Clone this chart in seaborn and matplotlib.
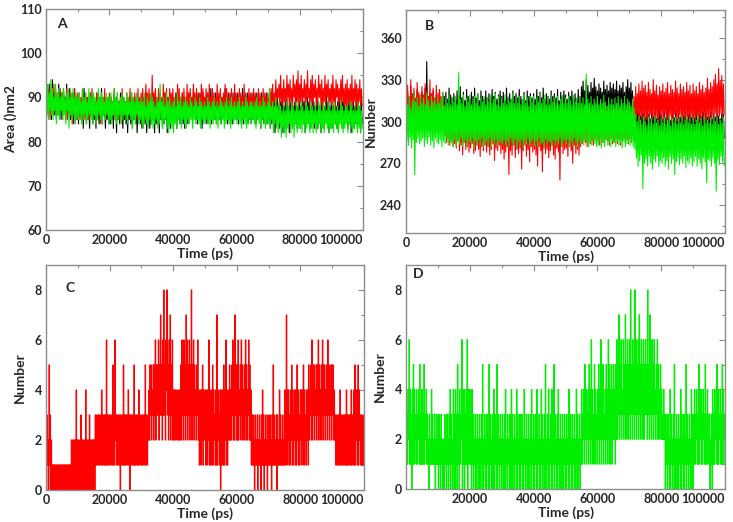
import matplotlib
matplotlib.use("Agg")
import matplotlib.pyplot as plt
from matplotlib.ticker import MultipleLocator
import numpy as np
import pandas as pd
import seaborn as sns

# ---- panel A : area (nm2), one value every 250 ps ----
area_black = [
    92,87,91,86,93,88,90,85,94,87,91,86,92,88,90,86,93,87,91,85,
    91,86,92,88,90,85,93,87,89,86,92,85,90,87,91,84,92,86,90,85,
    89,84,91,86,88,85,90,83,92,86,89,84,90,85,88,83,91,86,89,84,
    90,85,89,83,91,86,88,84,90,85,92,84,89,86,88,83,90,85,89,84,
    88,84,90,85,89,83,91,86,88,82,90,85,89,84,91,86,88,83,90,85,
    89,84,88,82,90,85,89,84,91,83,88,85,90,84,89,82,88,85,90,84,
    88,83,90,85,89,84,91,82,88,85,89,83,90,84,88,85,89,82,90,84,
    89,84,88,82,90,85,88,83,89,84,91,85,88,82,90,84,89,83,88,85,
    90,84,89,85,91,83,88,86,90,84,89,85,91,84,88,83,90,85,89,84,
    91,85,89,86,90,84,92,86,89,85,90,84,91,86,89,85,90,83,91,86,
    90,85,89,84,91,86,90,85,92,84,89,86,90,85,91,84,89,86,90,85,
    91,84,90,86,89,85,92,86,90,84,91,85,89,86,90,84,91,85,89,86,
    90,85,91,84,89,86,90,85,92,84,90,86,89,85,91,84,90,85,89,84,
    91,85,89,86,90,84,91,85,89,86,90,83,91,85,89,84,90,86,91,84,
    89,85,90,83,91,84,88,85,90,82,89,84,90,85,88,83,89,84,90,82,
    88,84,89,83,90,85,88,82,89,84,90,83,88,85,89,84,91,83,88,84,
    89,83,88,85,90,84,89,82,88,85,90,84,89,83,88,84,90,85,89,83,
    88,84,90,83,89,85,88,82,90,84,89,83,88,85,90,84,89,82,88,84,
    89,83,88,85,90,84,88,83,89,82,90,85,88,84,89,83,90,84,88,85,
    88,83,89,84,90,82,88,85,89,83,88,84,90,83,89,85,88,82,89,84]
area_red = [
    91,86,90,87,92,85,89,88,91,86,93,87,90,85,91,87,89,86,92,87,
    90,85,91,87,89,86,92,85,90,87,91,86,89,84,90,87,92,86,90,85,
    91,86,89,85,90,87,92,86,89,85,91,86,90,87,89,85,91,86,92,87,
    90,86,89,85,91,87,90,86,89,84,91,86,90,87,92,85,89,86,90,87,
    91,85,90,87,89,86,92,85,90,86,91,87,89,85,90,86,92,87,90,86,
    89,86,91,85,90,87,92,86,89,85,90,87,91,86,89,85,92,86,90,87,
    91,87,92,86,90,88,93,87,91,86,92,88,90,87,95,86,91,88,92,87,
    90,87,92,86,91,88,90,87,93,86,91,88,92,87,90,86,92,88,91,87,
    92,87,90,88,91,86,93,87,92,88,90,87,91,86,92,88,90,87,93,86,
    91,88,92,87,90,86,93,88,91,87,92,86,90,88,91,87,93,86,92,88,
    90,87,92,88,91,86,93,87,90,88,92,87,91,86,90,88,93,87,91,86,
    92,88,90,87,91,86,93,88,92,87,90,86,91,88,92,87,90,86,93,87,
    91,87,90,86,92,88,91,87,90,86,93,87,91,88,90,86,92,87,91,88,
    90,86,92,87,91,88,90,86,92,87,91,86,90,88,92,87,91,86,90,87,
    91,87,90,86,92,88,93,87,91,89,94,88,92,90,93,88,95,89,92,88,
    94,89,92,88,95,90,93,88,94,89,92,87,95,90,93,88,94,89,96,88,
    93,89,95,88,92,90,94,88,93,89,96,90,92,88,94,89,95,88,93,90,
    94,88,92,89,95,90,93,88,94,87,92,89,95,88,93,90,94,88,92,89,
    93,88,95,89,92,87,94,90,93,88,92,89,94,88,95,89,92,88,93,87,
    94,88,92,89,93,87,95,88,92,89,94,88,93,87,92,89,94,88,92,88]
area_green = [
    92,86,93,85,91,87,94,86,92,85,90,87,93,84,91,86,92,85,90,87,
    91,85,92,86,90,84,91,87,92,83,90,86,91,85,92,86,90,84,91,85,
    90,85,91,86,89,84,92,85,90,86,91,84,89,85,92,86,90,85,91,84,
    91,86,90,84,89,85,92,86,90,85,91,84,90,86,89,85,91,86,90,84,
    90,85,91,84,89,86,92,85,90,84,91,85,89,86,90,84,91,85,90,86,
    89,85,91,84,90,86,89,85,91,83,90,85,89,84,91,86,90,84,89,85,
    90,84,89,83,91,85,88,84,90,83,89,85,91,84,90,83,89,84,88,85,
    90,83,89,84,93,85,89,83,90,84,88,85,91,83,89,82,90,84,88,83,
    89,82,90,84,88,83,91,85,89,84,90,83,88,85,89,84,90,83,89,85,
    88,84,90,85,89,83,88,85,90,84,89,85,88,84,90,83,89,85,88,84,
    89,84,88,85,90,84,89,83,88,85,89,84,90,85,88,84,89,83,88,85,
    90,84,89,85,88,83,89,84,90,85,88,84,89,83,90,85,88,84,89,85,
    88,84,89,85,90,84,88,83,89,85,88,84,90,83,89,84,88,85,89,84,
    89,85,88,84,89,83,90,85,88,84,89,83,88,85,90,84,89,83,88,84,
    89,84,92,83,88,85,89,82,88,84,90,83,88,82,89,84,88,81,87,83,
    88,82,87,81,89,83,88,84,87,82,89,83,88,81,87,84,89,82,88,83,
    87,83,89,82,88,84,87,82,89,83,88,84,87,82,89,83,88,82,87,84,
    88,82,87,83,89,84,88,82,87,83,89,82,88,84,87,83,89,82,88,83,
    87,83,88,82,89,84,87,83,88,82,87,84,89,83,88,82,87,83,88,84,
    88,82,87,84,89,83,88,82,87,83,88,84,87,82,89,83,88,82,87,83]

# ---- panel B : number, one value every 250 ps ----
num_black = [
    318,298,322,296,315,300,325,294,317,299,320,297,314,301,323,295,319,298,316,300,
    321,297,317,300,324,296,343,299,318,295,320,301,316,297,322,299,315,296,319,300,
    317,296,323,299,315,297,320,300,318,294,321,298,316,301,324,297,319,295,317,299,
    320,298,316,295,322,300,318,297,325,299,317,296,321,300,315,298,323,295,318,301,
    316,297,321,299,318,295,324,300,317,298,320,296,315,299,322,297,318,300,316,296,
    322,299,317,296,320,298,316,300,323,295,318,299,321,297,316,300,319,296,322,298,
    318,296,321,300,315,297,324,299,317,295,320,298,316,301,322,297,318,299,320,296,
    317,299,323,296,318,300,316,297,321,299,315,296,322,300,318,297,320,298,317,299,
    320,297,316,300,323,298,318,295,321,299,317,297,324,300,316,298,320,296,318,300,
    316,298,322,299,318,296,320,300,317,297,323,299,315,298,321,296,318,300,322,297,
    319,300,316,297,321,299,318,296,322,300,317,298,320,297,316,301,323,299,318,296,
    325,305,329,308,322,306,330,304,326,309,321,306,328,305,324,308,331,306,325,304,
    322,307,327,304,324,309,321,305,329,307,323,304,326,308,322,306,328,303,324,307,
    327,305,323,308,329,306,322,304,326,309,324,305,328,307,321,304,325,308,330,306,
    324,307,328,305,322,300,310,287,305,290,312,286,307,291,304,285,309,289,306,284,
    303,288,308,285,305,290,302,284,309,287,304,289,307,283,302,288,306,285,310,287,
    305,284,302,289,307,286,303,288,309,285,304,287,301,283,306,289,303,286,308,284,
    302,287,306,284,303,289,308,286,304,283,307,288,302,285,305,289,309,286,303,285,
    306,285,303,288,308,284,302,287,305,289,304,283,307,286,302,288,306,284,303,287,
    304,288,307,285,302,289,306,284,303,287,308,285,304,289,302,286,306,283,305,288]
num_red = [
    322,303,326,300,318,305,330,302,320,306,324,301,317,304,328,300,321,303,319,305,
    325,301,319,304,327,300,322,306,318,302,330,305,320,301,324,303,317,300,326,304,
    320,303,323,299,318,305,321,296,312,290,308,285,304,288,310,283,306,287,303,282,
    305,284,307,281,302,286,309,279,304,283,300,276,306,285,303,280,308,282,301,278,
    304,281,307,284,300,277,305,279,302,283,308,280,303,275,306,282,301,279,304,283,
    306,278,301,282,304,276,309,280,303,284,300,272,305,281,307,279,302,283,304,277,
    303,280,306,273,301,278,305,282,302,262,304,279,300,276,307,283,303,274,301,280,
    305,277,302,281,308,266,303,279,300,283,306,275,302,280,304,271,307,282,301,278,
    303,280,306,276,301,268,305,282,303,279,300,264,304,281,307,277,302,280,305,274,
    302,279,306,283,301,276,304,273,307,281,302,278,305,258,303,282,300,277,306,280,
    304,281,301,275,307,282,303,279,300,270,305,283,302,277,306,280,301,276,304,282,
    306,284,309,287,303,285,307,282,310,288,305,284,308,286,304,283,309,287,306,285,
    308,286,305,283,310,288,306,285,309,284,304,287,311,286,307,283,308,288,305,284,
    307,285,310,288,305,284,309,287,306,283,311,286,305,288,308,285,306,287,310,284,
    306,288,309,285,312,290,318,298,325,302,320,305,327,300,322,304,329,301,324,303,
    326,301,321,304,328,300,323,305,320,302,330,304,322,301,326,303,319,300,325,305,
    322,303,327,300,321,305,324,299,328,302,320,304,326,301,323,300,321,305,329,302,
    324,300,320,305,327,302,323,299,325,304,321,301,328,303,322,300,326,304,320,302,
    327,302,322,300,325,304,320,301,328,299,323,305,326,302,321,300,324,303,331,301,
    323,305,328,301,325,303,330,306,334,302,327,305,338,304,329,306,333,302,327,305]
num_green = [
    316,286,312,283,318,288,310,281,315,287,320,262,314,285,317,288,311,284,319,286,
    313,288,317,282,312,287,320,284,315,289,311,283,318,286,314,281,316,288,312,285,
    318,284,313,287,316,282,320,286,311,284,317,288,313,283,319,286,312,285,317,282,
    314,287,318,283,312,286,335,284,316,288,313,282,319,285,311,287,317,283,314,286,
    319,285,312,288,316,281,318,286,313,284,320,287,311,283,317,288,314,282,318,285,
    312,286,317,283,314,288,319,282,313,286,316,284,320,287,312,283,318,286,311,285,
    317,284,313,287,319,283,312,286,318,282,314,288,316,285,320,283,313,287,317,282,
    313,286,318,283,312,287,316,281,319,286,313,284,317,288,311,283,318,285,314,287,
    318,283,312,286,317,282,314,288,320,284,313,285,316,281,319,287,312,284,317,286,
    312,285,319,282,314,287,317,283,313,286,318,284,312,288,316,282,319,285,313,287,
    317,284,313,287,318,282,315,286,312,283,319,288,314,285,317,282,313,286,318,284,
    313,286,317,283,312,287,334,284,316,282,313,286,318,283,312,287,316,284,313,282,
    318,283,312,286,316,281,313,285,319,282,314,287,311,283,317,285,312,282,316,286,
    312,285,317,282,313,286,318,283,311,285,316,281,313,286,318,282,312,284,316,285,
    314,283,311,286,316,282,310,280,305,274,300,268,304,272,301,276,298,252,303,270,
    300,273,297,268,303,275,299,270,302,266,298,273,304,271,299,275,301,268,297,272,
    302,270,299,274,303,268,298,272,301,266,304,275,297,270,302,273,299,262,303,271,
    298,274,302,269,299,273,304,270,298,275,301,267,303,272,299,270,302,274,298,268,
    303,271,298,275,301,268,304,273,299,270,302,266,297,274,303,271,299,256,301,273,
    299,272,303,268,298,274,302,270,300,250,303,273,298,269,301,275,299,271,303,268]

# ---- panel C / D : counts, 30 values per 5000 ps ----
count_c = [
    2,0,3,1,2,0,5,1,3,0,2,1,0,1,0,1,0,1,0,1,1,0,1,0,1,0,1,0,1,0,
    1,0,1,0,1,0,1,0,1,0,1,0,1,0,1,0,1,0,2,0,2,0,1,2,0,2,0,4,0,2,
    0,2,0,1,2,0,3,0,2,0,2,1,0,2,0,4,0,2,0,1,2,0,3,0,2,0,1,2,0,2,
    0,2,0,3,1,3,1,2,3,1,3,1,2,3,1,4,1,3,2,1,3,1,3,1,6,1,3,1,2,3,
    1,3,1,2,3,1,5,1,3,1,6,2,3,1,3,1,2,3,1,3,0,3,1,2,3,1,5,1,3,1,
    3,1,2,3,1,4,1,3,0,3,1,3,2,1,3,1,5,1,3,1,2,3,1,3,1,4,1,3,2,1,
    3,1,3,1,2,3,1,5,1,3,2,1,3,2,4,2,5,3,5,2,4,3,5,2,5,3,6,2,5,3,
    5,3,6,2,5,3,7,3,5,2,6,3,8,3,5,2,6,4,8,3,5,2,6,3,7,2,5,3,6,2,
    4,2,3,4,2,4,3,2,4,3,2,4,2,3,5,2,6,3,5,2,6,3,5,2,7,3,6,2,5,3,
    6,2,5,3,8,2,5,3,6,2,5,3,4,2,5,3,6,2,4,1,3,4,1,4,2,5,1,4,2,3,
    4,1,3,4,1,4,2,6,1,4,1,3,4,1,5,1,4,2,3,1,4,1,7,1,4,2,3,1,4,0,
    4,1,3,4,1,5,1,4,2,6,1,4,1,3,4,2,5,2,4,2,5,3,6,2,5,2,7,3,5,2,
    5,2,6,2,4,3,5,2,6,3,5,2,4,2,5,3,6,2,5,2,4,3,6,2,5,2,4,1,3,1,
    3,1,2,0,3,1,2,1,3,0,2,1,3,1,2,0,3,1,4,1,3,0,2,1,3,1,2,0,3,1,
    2,1,3,1,2,0,3,1,5,1,3,1,2,1,3,0,3,1,2,1,4,1,3,1,2,1,3,1,2,1,
    4,1,3,7,1,4,2,4,1,3,1,4,2,5,1,4,1,3,2,4,1,4,1,5,2,4,1,3,1,4,
    2,4,1,4,2,5,1,4,2,3,1,4,2,4,1,5,2,4,3,5,2,6,2,5,3,5,2,4,3,5,
    2,5,3,6,2,5,3,4,2,5,3,6,2,5,3,5,2,4,3,5,2,6,3,5,2,4,3,5,2,5,
    3,5,2,4,2,3,1,3,1,2,3,1,3,1,4,1,3,2,1,3,1,2,3,1,3,1,4,1,3,1,
    2,3,1,3,1,4,1,3,2,1,4,1,5,1,4,2,4,1,5,1,4,2,3,1,3,1,2,3,1,2]
count_d = [
    4,1,3,1,4,2,6,1,4,1,3,0,4,1,5,1,4,2,3,1,4,1,3,2,4,1,5,1,3,1,
    4,1,3,1,5,1,3,2,4,1,3,1,2,0,3,1,2,1,4,1,3,1,2,1,3,0,2,1,3,1,
    2,0,3,1,2,0,3,1,2,0,1,2,0,3,1,2,0,3,1,2,0,3,1,4,0,3,1,2,0,4,
    1,3,0,4,1,3,0,5,1,3,0,4,1,3,2,6,0,3,1,4,0,3,1,4,1,6,0,4,1,3,
    4,1,3,0,4,1,3,0,2,1,3,0,2,0,3,1,2,0,3,0,2,1,3,0,5,0,2,1,3,0,
    2,0,3,1,2,0,5,0,3,1,2,0,3,0,2,4,0,3,1,2,0,5,0,3,1,2,0,3,1,2,
    0,3,1,2,0,3,0,4,1,2,0,3,1,2,0,3,0,2,4,0,3,1,2,0,3,1,2,0,4,0,
    3,1,2,0,3,0,2,1,3,0,2,0,4,1,2,0,3,1,2,0,3,0,2,1,3,0,4,1,2,0,
    3,0,2,1,3,0,4,0,2,1,3,0,2,0,4,1,3,0,2,1,3,0,5,0,2,1,3,0,4,0,
    2,1,3,0,4,0,2,1,5,0,3,1,2,0,3,0,4,1,2,0,3,1,2,0,3,0,2,1,3,0,
    2,0,3,1,2,0,4,0,3,1,2,0,3,0,2,1,3,0,2,0,4,1,3,0,2,1,3,0,2,1,
    4,1,3,2,4,1,5,2,4,1,3,2,4,1,5,2,4,1,6,2,4,1,3,2,5,1,4,2,3,1,
    4,2,5,1,4,2,6,1,4,2,5,1,3,2,4,1,5,2,4,1,6,2,5,1,4,2,5,1,4,2,
    5,2,4,1,5,2,6,2,5,3,7,2,5,3,6,2,4,3,6,2,5,3,7,2,5,3,6,2,5,3,
    6,2,8,3,5,2,6,3,5,2,8,3,6,2,5,3,6,2,7,3,5,2,6,3,5,2,6,2,5,3,
    6,3,5,2,8,3,5,2,7,3,5,2,6,3,5,2,6,3,4,2,5,3,6,2,5,2,4,3,5,2,
    4,2,3,2,4,2,3,0,3,1,2,0,3,1,2,0,4,0,3,1,2,0,3,1,5,0,2,1,3,0,
    2,0,3,1,2,0,4,0,3,1,2,0,3,0,2,1,5,0,3,1,2,0,3,1,2,0,4,1,3,0,
    3,1,4,1,3,2,4,1,3,1,5,1,3,2,4,1,3,1,4,2,3,1,5,1,3,1,4,2,3,1,
    3,0,2,1,3,0,4,1,3,1,4,2,3,1,5,1,4,1,3,2,4,1,3,1,5,1,4,2,3,1]

t_ab = np.arange(len(area_black)) * 250
t_c = np.linspace(0, 100000, len(count_c))
t_d = np.linspace(0, 100000, len(count_d))

RED = "#ff0000"
GREEN = "#00ee00"
TICKCOL = "#888888"

sns.set_style("white")
plt.rcParams['font.family'] = ['Lato', 'DejaVu Sans']
plt.rcParams['font.weight'] = 'bold'

fig = plt.figure(figsize=(7.33, 5.22), dpi=100)
axA = fig.add_axes([0.0628, 0.5594, 0.4324, 0.4234])
axB = fig.add_axes([0.5539, 0.5536, 0.4352, 0.4272])
axC = fig.add_axes([0.0628, 0.0613, 0.4338, 0.4310])
axD = fig.add_axes([0.5539, 0.0632, 0.4352, 0.4291])

dfA = pd.DataFrame({"t": t_ab, "black": area_black, "red": area_red, "green": area_green})
dfB = pd.DataFrame({"t": t_ab, "black": num_black, "red": num_red, "green": num_green})
for ax, df in [(axA, dfA), (axB, dfB)]:
    for col, c in [("black", "black"), ("red", RED), ("green", GREEN)]:
        sns.lineplot(data=df, x="t", y=col, ax=ax, color=c, linewidth=0.8,
                     estimator=None, sort=False)

sns.lineplot(x=t_c, y=count_c, ax=axC, color=RED, linewidth=0.8,
             estimator=None, sort=False, drawstyle='steps-mid')
sns.lineplot(x=t_d, y=count_d, ax=axD, color=GREEN, linewidth=0.8,
             estimator=None, sort=False, drawstyle='steps-mid')

axA.set_ylim(60, 110)
axA.set_yticks([60, 70, 80, 90, 100, 110], ["60", "70", "80", "90", "100", "110"], fontweight='bold')
axA.yaxis.set_minor_locator(MultipleLocator(5))
axA.set_ylabel("Area ()nm2", fontsize=10, fontweight='bold', labelpad=2)

axB.set_ylim(220, 380)
axB.set_yticks([240, 270, 300, 330, 360], ["240", "270", "300", "330", "360"], fontweight='bold')
axB.yaxis.set_minor_locator(MultipleLocator(15))
axB.set_ylabel("Number", fontsize=10, fontweight='bold', labelpad=2)

for ax in (axC, axD):
    ax.set_ylim(0, 9)
    ax.set_yticks([0, 2, 4, 6, 8], ["0", "2", "4", "6", "8"], fontweight='bold')
    ax.yaxis.set_minor_locator(MultipleLocator(1))
    ax.set_ylabel("Number", fontsize=10, fontweight='bold', labelpad=6)

xt = [0, 20000, 40000, 60000, 80000, 100000]
for ax, lab, pos in [(axA, "A", (0.035, 0.93)), (axB, "B", (0.06, 0.93)),
                     (axC, "C", (0.06, 0.9)), (axD, "D", (0.022, 0.96))]:
    ax.set_xlim(0, 100000)
    labels = [str(v) for v in xt]
    if ax is axD:
        labels[0] = ""
    ax.set_xticks(xt, labels, fontweight='bold')
    ax.get_xticklabels()[-1].set_horizontalalignment('right')
    ax.xaxis.set_minor_locator(MultipleLocator(10000))
    ax.set_xlabel("Time (ps)", fontsize=10, fontweight='bold', labelpad=1)
    ax.tick_params(which='both', direction='in', top=True, right=True,
                   color=TICKCOL, labelsize=9, pad=3)
    ax.tick_params(which='major', length=4, width=0.8)
    ax.tick_params(which='minor', length=2.5, width=0.8)
    for s in ax.spines.values():
        s.set_color('#8c8c8c')
        s.set_linewidth(1.0)
    ax.text(pos[0], pos[1], lab, transform=ax.transAxes, fontsize=10,
            fontweight='bold', va='center', ha='left')

fig.savefig("out.png", dpi=100)
